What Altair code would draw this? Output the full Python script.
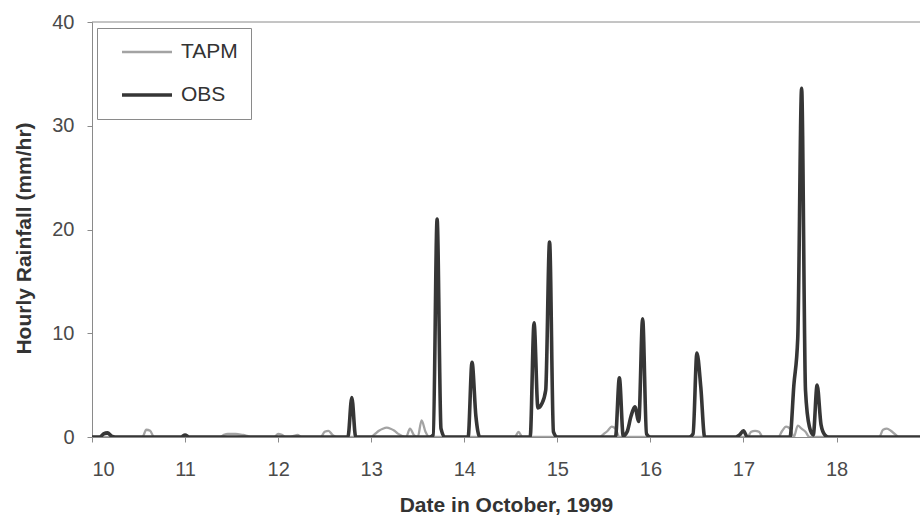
import altair as alt
import pandas as pd

# Hourly rainfall (mm/hr), one row of 24 hourly values per day, 10-18 October 1999
days = [10, 11, 12, 13, 14, 15, 16, 17, 18]

obs = [
    [0, 0, 0, 0.3, 0.4, 0.1, 0, 0, 0, 0, 0, 0, 0, 0, 0, 0, 0, 0, 0, 0, 0, 0, 0, 0],
    [0.2, 0, 0, 0, 0, 0, 0, 0, 0, 0, 0, 0, 0, 0, 0, 0, 0, 0, 0, 0, 0, 0, 0, 0],
    [0, 0, 0, 0, 0, 0, 0, 0, 0, 0, 0, 0, 0, 0, 0, 0, 0, 0, 0, 3.8, 0, 0, 0, 0],
    [0, 0, 0, 0, 0, 0, 0, 0, 0, 0, 0, 0, 0, 0, 0, 0, 0.2, 21.0, 0.8, 0, 0, 0, 0, 0],
    [0, 0, 7.2, 2.0, 0, 0, 0, 0, 0, 0, 0, 0, 0, 0, 0, 0, 0, 0, 11.0, 2.8, 3.2, 4.5, 18.8, 0.5],
    [0, 0, 0, 0, 0, 0, 0, 0, 0, 0, 0, 0, 0, 0, 0, 0, 5.7, 0.1, 0.5, 2.0, 2.9, 1.5, 11.4, 0.3],
    [0, 0, 0, 0, 0, 0, 0, 0, 0, 0, 0, 0.3, 8.1, 4.8, 0, 0, 0, 0, 0, 0, 0, 0, 0, 0.2],
    [0.6, 0, 0, 0, 0, 0, 0, 0, 0, 0, 0, 0, 0, 5.0, 9.5, 33.6, 4.5, 1.0, 0.2, 5.0, 1.2, 0.2, 0, 0],
    [0, 0, 0, 0, 0, 0, 0, 0, 0, 0, 0, 0, 0, 0, 0, 0, 0, 0, 0, 0, 0, 0, 0, 0],
]

tapm = [
    [0, 0, 0, 0, 0, 0, 0, 0, 0, 0, 0, 0, 0, 0, 0.7, 0.6, 0, 0, 0, 0, 0, 0, 0, 0],
    [0, 0, 0, 0, 0, 0, 0, 0, 0, 0, 0.2, 0.3, 0.3, 0.3, 0.25, 0.2, 0.1, 0, 0, 0, 0, 0, 0, 0],
    [0.3, 0.2, 0, 0, 0.1, 0.2, 0, 0, 0, 0, 0, 0, 0.5, 0.6, 0.2, 0, 0, 0, 0, 0, 0, 0, 0, 0],
    [0, 0.3, 0.6, 0.8, 0.9, 0.8, 0.6, 0.3, 0.1, 0, 0.8, 0.2, 0, 1.6, 0.5, 0, 0, 0, 0, 0, 0, 0, 0, 0],
    [0, 0, 0, 0, 0, 0, 0, 0, 0, 0, 0, 0, 0, 0, 0.5, 0, 0, 0, 0, 0, 0, 0, 0, 0],
    [0, 0, 0, 0, 0, 0, 0, 0, 0, 0, 0, 0, 0.3, 0.6, 1.0, 0.8, 0, 0, 0, 0, 0, 0, 0, 0],
    [0, 0, 0, 0, 0, 0, 0, 0, 0, 0, 0, 0, 0, 0, 0, 0, 0, 0, 0, 0, 0, 0, 0, 0],
    [0, 0, 0.5, 0.6, 0.5, 0, 0, 0, 0, 0, 0.6, 1.0, 0.8, 0, 1.1, 0.8, 0.5, 0, 0, 0, 0, 0, 0, 0],
    [0, 0, 0, 0, 0, 0, 0, 0, 0, 0, 0, 0, 0.7, 0.8, 0.6, 0.3, 0, 0, 0, 0, 0, 0, 0, 0],
]

series_names = ["TAPM", "OBS"]
series_colors = ["#a3a3a3", "#363636"]
series_widths = [2.3, 3.6]
x_ticks = [10, 11, 12, 13, 14, 15, 16, 17, 18]
y_ticks = [0, 10, 20, 30, 40]

rows = []
for name, table in (("TAPM", tapm), ("OBS", obs)):
    for d, vals in zip(days, table):
        for h, v in enumerate(vals):
            rows.append({"date": d + h / 24.0, "rain": v, "series": name})
df = pd.DataFrame(rows)

FONT = "Liberation Sans"

x_scale = alt.Scale(domain=[10, 18.897], nice=False, zero=False)
y_scale = alt.Scale(domain=[0, 40], nice=False)

lines = (
    alt.Chart(df)
    .mark_line(interpolate="monotone", clip=True)
    .encode(
        x=alt.X(
            "date:Q",
            scale=x_scale,
            axis=alt.Axis(
                values=x_ticks,
                format="d",
                title="Date in October, 1999",
                labelFontSize=20,
                labelPadding=17,
                titleFontSize=21,
                titlePadding=15,
            ),
        ),
        y=alt.Y(
            "rain:Q",
            scale=y_scale,
            axis=alt.Axis(
                values=y_ticks,
                title="Hourly Rainfall (mm/hr)",
                labelFontSize=20,
                labelPadding=13,
                titleFontSize=21,
                titlePadding=17,
                titleY=216,
            ),
        ),
        color=alt.Color(
            "series:N",
            scale=alt.Scale(domain=series_names, range=series_colors),
            sort=series_names,
            legend=alt.Legend(
                title=None,
                orient="none",
                legendX=5,
                legendY=6,
                symbolType="stroke",
                symbolSize=2500,
                symbolStrokeWidth=3,
                symbolOffset=10,
                clipHeight=22,
                rowPadding=21,
                labelFontSize=21,
                labelOffset=7,
                labelColor="#333333",
                labelFont=FONT,
                padding=13,
                strokeColor="#8a8a8a",
                fillColor="white",
            ),
        ),
        strokeWidth=alt.StrokeWidth(
            "series:N",
            scale=alt.Scale(domain=series_names, range=series_widths),
            sort=series_names,
            legend=None,
        ),
        order=alt.Order("series:N", sort="descending"),
        detail="series:N",
    )
)

# frame line along the top of the plot area
top_frame = (
    alt.Chart(pd.DataFrame({"y": [40]}))
    .mark_rule(color="#8a8a8a", strokeWidth=1)
    .encode(y=alt.Y("y:Q", scale=y_scale))
)

chart = (
    alt.layer(lines, top_frame)
    .properties(
        width=828,
        height=415,
        padding={"left": 92, "top": 22, "right": 0, "bottom": 84},
        autosize="none",
        background="white",
    )
    .configure_view(stroke=None)
    .configure_axis(
        grid=False,
        domainColor="#8a8a8a",
        tickColor="#8a8a8a",
        tickSize=5,
        labelFont=FONT,
        titleFont=FONT,
        labelColor="#4a4a4a",
        titleColor="#333333",
        titleFontWeight="bold",
    )
)

chart.save("out.html", embed_options={"renderer": "svg", "actions": False})
